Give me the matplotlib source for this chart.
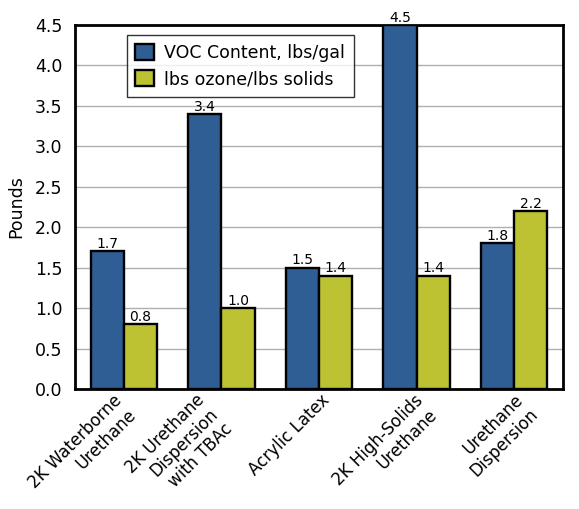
import matplotlib
matplotlib.use("Agg")
import matplotlib.pyplot as plt
import matplotlib.transforms as mtransforms
import numpy as np

plt.rcParams['font.family'] = ['DejaVu Sans']

categories = ["2K Waterborne\nUrethane", "2K Urethane\nDispersion\nwith TBAc",
              "Acrylic Latex", "2K High-Solids\nUrethane", "Urethane\nDispersion"]
voc = [1.7, 3.4, 1.5, 4.5, 1.8]
ozone = [0.8, 1.0, 1.4, 1.4, 2.2]
series_names = ["VOC Content, lbs/gal", "lbs ozone/lbs solids"]
yticks = [0.0, 0.5, 1.0, 1.5, 2.0, 2.5, 3.0, 3.5, 4.0, 4.5]

blue = "#2F5E95"
green = "#BDC233"

fig = plt.figure(figsize=(5.79, 5.09), dpi=100)
ax = fig.add_axes([75/579, 1 - 389/509, 488/579, 364/509])

x = np.arange(len(categories))
w = 0.34
b1 = ax.bar(x - w/2, voc, w, color=blue, edgecolor="black", linewidth=1.7,
            label=series_names[0], zorder=3)
b2 = ax.bar(x + w/2, ozone, w, color=green, edgecolor="black", linewidth=1.7,
            label=series_names[1], zorder=3)

for bars, vals in ((b1, voc), (b2, ozone)):
    for r, v in zip(bars, vals):
        ax.text(r.get_x() + r.get_width()/2, v + 0.005, f"{v:.1f}",
                ha="center", va="bottom", fontsize=10, zorder=4)

ax.set_xlim(-0.5, len(categories) - 0.5)
ax.set_ylim(0, 4.5)
ax.set_yticks(yticks)
ax.set_yticklabels([f"{t:.1f}" for t in yticks], fontsize=12.5)
ax.yaxis.grid(True, color="#b0b0b0", linewidth=1.0, zorder=0)
ax.set_axisbelow(True)
ax.tick_params(axis="y", length=0, pad=9)
ax.set_xticks(x)
ax.set_xticklabels(categories, rotation=45, ha="right", rotation_mode="anchor",
                   fontsize=12, multialignment="right", linespacing=1.15)
ax.tick_params(axis="x", length=0, pad=1.5)

# nudge the longer category labels slightly to the left (in points)
nudges = [-8, -19, 1, -2, 0]
for lbl, dx in zip(ax.get_xticklabels(), nudges):
    lbl.set_transform(lbl.get_transform() +
                      mtransforms.ScaledTranslation(dx / 72, 0, fig.dpi_scale_trans))

for s in ax.spines.values():
    s.set_linewidth(2)
    s.set_color("black")
ax.set_ylabel("Pounds", fontsize=12.5, labelpad=7)

leg = ax.legend(loc="upper left", bbox_to_anchor=(0.106, 0.973), fontsize=12.5,
                frameon=True, fancybox=False, edgecolor="black",
                handlelength=1.05, handleheight=1.05, borderpad=0.5,
                labelspacing=0.5, handletextpad=0.6, borderaxespad=0)
leg.get_frame().set_linewidth(1.0)

fig.savefig("out.png", dpi=100)
